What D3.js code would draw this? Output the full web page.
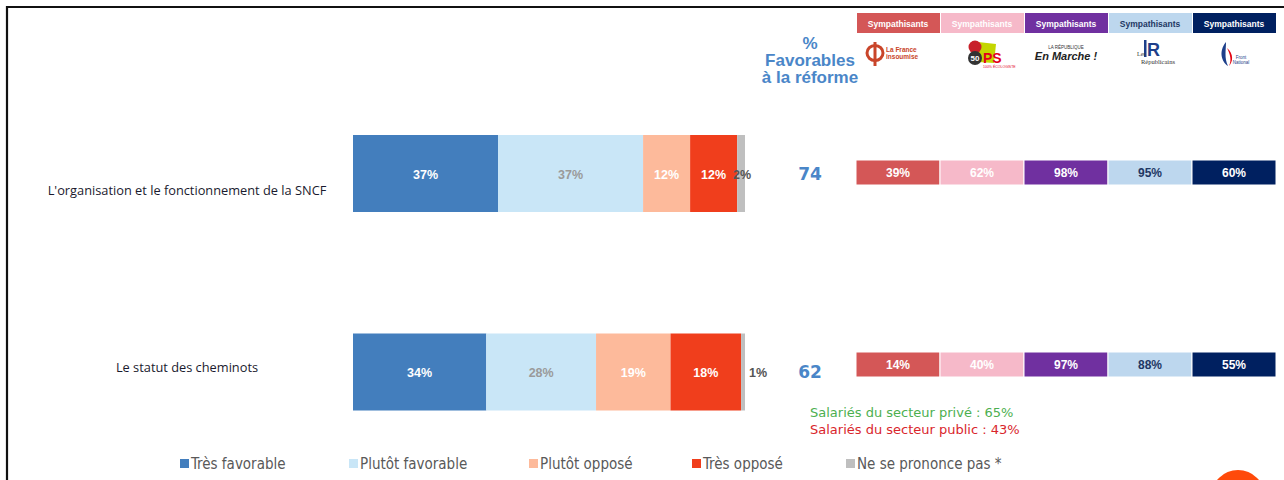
<!DOCTYPE html>
<html>
<head>
<meta charset="utf-8">
<script src="https://cdn.jsdelivr.net/npm/d3@7/dist/d3.min.js"></script>
<style>
html,body{margin:0;padding:0;background:#fff;}
svg{display:block;}
</style>
</head>
<body>
<svg id="chart" width="1284" height="480"></svg>
<script>
// ---- data ----
const categories = ["L'organisation et le fonctionnement de la SNCF", "Le statut des cheminots"];
const seriesNames = ["Très favorable", "Plutôt favorable", "Plutôt opposé", "Très opposé", "Ne se prononce pas *"];
const tresFavorable = [37, 34];
const plutotFavorable = [37, 28];
const plutotOppose = [12, 19];
const tresOppose = [12, 18];
const nePrononcePas = [2, 1];
const favorables = [74, 62];
const parties = ["La France insoumise", "PS", "En Marche !", "Les Républicains", "Front National"];
const lfi = [39, 14];
const ps = [62, 40];
const lrem = [98, 97];
const lr = [95, 88];
const fn = [60, 55];
const salaries = ["Salariés du secteur privé : 65%", "Salariés du secteur public : 43%"];

const seriesColors = ["#437ebd", "#c9e6f7", "#fdba9b", "#f03e1c", "#bfbfbf"];
const seriesText = ["#ffffff", "#9a9a9a", "#ffffff", "#ffffff", "#555555"];
const partyColors = ["#d45757", "#f6b9c9", "#7030a0", "#bdd7ee", "#002060"];
const partyText = ["#ffffff", "#ffffff", "#ffffff", "#1f3864", "#ffffff"];

const svg = d3.select("#chart");
const W = 1284, H = 480;

// frame
svg.append("path").attr("d", `M7,${H} V7 H${W}`).attr("fill", "none").attr("stroke", "#111").attr("stroke-width", 2.2);

// scales
const x = d3.scaleLinear().domain([0, 100]).range([353, 745]);
const y = d3.scalePoint().domain(categories).range([173.5, 372]);
const barH = 77;

const seriesVals = [tresFavorable, plutotFavorable, plutotOppose, tresOppose, nePrononcePas];
const rows = categories.map((c, i) => {
  const o = { cat: c };
  seriesNames.forEach((s, j) => o[s] = seriesVals[j][i]);
  return o;
});
const stack = d3.stack().keys(seriesNames)(rows);

const font = "'Liberation Sans', Arial, sans-serif";

stack.forEach((layer, j) => {
  const g = svg.append("g");
  g.selectAll("rect").data(layer).join("rect")
    .attr("x", d => x(d[0]))
    .attr("y", d => y(d.data.cat) - barH / 2)
    .attr("width", d => x(d[1]) - x(d[0]))
    .attr("height", barH)
    .attr("fill", seriesColors[j]);
  g.selectAll("text").data(layer).join("text")
    .attr("x", d => {
      const v = d[1] - d[0];
      if (j === 4) return v >= 2 ? x(d[1]) - 3 : x(d[1]) + 13;
      return (x(d[0]) + x(d[1])) / 2;
    })
    .attr("y", d => y(d.data.cat) + 5)
    .attr("text-anchor", "middle")
    .attr("font-family", font)
    .attr("font-weight", "bold")
    .attr("font-size", 12.5)
    .attr("fill", seriesText[j])
    .text(d => (d[1] - d[0]) + "%");
});

// category labels
svg.selectAll("text.cat").data(categories).join("text")
  .attr("class", "cat")
  .attr("x", 187)
  .attr("y", (d, i) => y(d) + (i === 0 ? 21 : 0))
  .attr("text-anchor", "middle")
  .attr("font-family", "'Open Sans', 'Noto Sans', sans-serif")
  .attr("font-size", 12.8)
  .attr("fill", "#1a1a2e")
  .text(d => d);

// % favorables header
const hdr = svg.append("text").attr("text-anchor", "middle")
  .attr("font-family", "'Liberation Sans', Verdana, sans-serif").attr("font-weight", "bold")
  .attr("font-size", 17).attr("fill", "#4a86c8");
["%", "Favorables", "à la réforme"].forEach((t, i) => {
  hdr.append("tspan").attr("x", 810).attr("y", 48.5 + i * 17.3).text(t);
});

// favorable totals
svg.selectAll("text.fav").data(favorables).join("text")
  .attr("class", "fav")
  .attr("x", 810)
  .attr("y", (d, i) => y(categories[i]) + 6)
  .attr("text-anchor", "middle")
  .attr("font-family", "'DejaVu Sans', Verdana, sans-serif")
  .attr("font-weight", "bold")
  .attr("font-size", 17)
  .attr("fill", "#4a86c8")
  .text(d => d);

// party bars
const px = d3.scaleBand().domain(parties).range([856, 1276]);
const py = d3.scalePoint().domain(categories).range([172.5, 364.5]);
const partyVals = [lfi, ps, lrem, lr, fn];
const partyH = 25;

categories.forEach((c, i) => {
  const g = svg.append("g");
  g.selectAll("rect").data(parties).join("rect")
    .attr("x", d => px(d))
    .attr("y", py(c) - partyH / 2)
    .attr("width", px.bandwidth())
    .attr("height", partyH)
    .attr("fill", (d, k) => partyColors[k])
    .attr("stroke", "#fff").attr("stroke-width", 1);
  g.selectAll("text").data(parties).join("text")
    .attr("x", d => px(d) + px.bandwidth() / 2)
    .attr("y", py(c) + 4.5)
    .attr("text-anchor", "middle")
    .attr("font-family", font)
    .attr("font-weight", "bold")
    .attr("font-size", 12)
    .attr("fill", (d, k) => partyText[k])
    .text((d, k) => partyVals[k][i] + "%");
});

// Sympathisants header boxes
const hg = svg.append("g");
hg.selectAll("rect").data(parties).join("rect")
  .attr("x", d => px(d) + 1)
  .attr("y", 13)
  .attr("width", px.bandwidth() - 1)
  .attr("height", 20)
  .attr("fill", (d, k) => partyColors[k]);
hg.selectAll("text").data(parties).join("text")
  .attr("x", d => px(d) + px.bandwidth() / 2)
  .attr("y", 26.5)
  .attr("text-anchor", "middle")
  .attr("font-family", font)
  .attr("font-weight", "bold")
  .attr("font-size", 8.5)
  .attr("fill", (d, k) => partyText[k])
  .text("Sympathisants");

// logos (approximations)
const lg = svg.append("g");
// LFI
{
  const cx = px(parties[0]) + 19;
  lg.append("ellipse").attr("cx", cx).attr("cy", 53).attr("rx", 8).attr("ry", 7.5).attr("fill", "none").attr("stroke", "#c9452a").attr("stroke-width", 3);
  lg.append("line").attr("x1", cx).attr("x2", cx).attr("y1", 42).attr("y2", 66).attr("stroke", "#c9452a").attr("stroke-width", 3);
  lg.append("text").attr("x", cx + 11).attr("y", 52).attr("font-family", font).attr("font-weight", "bold").attr("font-size", 6.5).attr("fill", "#c9452a").text("La France");
  lg.append("text").attr("x", cx + 11).attr("y", 58.5).attr("font-family", font).attr("font-weight", "bold").attr("font-size", 6.5).attr("fill", "#c9452a").text("insoumise");
}
// PS
{
  const cx = px(parties[1]) + px.bandwidth() / 2;
  lg.append("path").attr("d", `M${cx - 4},42 L${cx + 14},44 L${cx + 12},63 L${cx - 4},62 Z`).attr("fill", "#c4d600");
  lg.append("circle").attr("cx", cx - 7).attr("cy", 47).attr("r", 6.5).attr("fill", "#c8202a");
  lg.append("circle").attr("cx", cx - 7).attr("cy", 58).attr("r", 7).attr("fill", "#333");
  lg.append("text").attr("x", cx - 7).attr("y", 61).attr("text-anchor", "middle").attr("font-family", font).attr("font-weight", "bold").attr("font-size", 8).attr("fill", "#fff").text("50");
  lg.append("text").attr("x", cx + 1).attr("y", 63).attr("font-family", font).attr("font-weight", "bold").attr("font-size", 14).attr("fill", "#e3001b").text("PS");
  lg.append("text").attr("x", cx + 1).attr("y", 68).attr("font-family", font).attr("font-size", 3.5).attr("fill", "#e3001b").text("100% ÉCOLOGISTE");
}
// En Marche
{
  const cx = px(parties[2]) + px.bandwidth() / 2;
  lg.append("text").attr("x", cx).attr("y", 49).attr("text-anchor", "middle").attr("font-family", font).attr("font-size", 4.5).attr("fill", "#333").text("LA RÉPUBLIQUE");
  lg.append("text").attr("x", cx).attr("y", 60).attr("text-anchor", "middle").attr("font-family", font).attr("font-weight", "bold").attr("font-style", "italic").attr("font-size", 11).attr("fill", "#222").text("En Marche !");
}
// LR
{
  const cx = px(parties[3]) + px.bandwidth() / 2;
  lg.append("rect").attr("x", cx - 6).attr("y", 40).attr("width", 2.5).attr("height", 17).attr("fill", "#1d3f8a");
  lg.append("text").attr("x", cx - 3).attr("y", 56).attr("font-family", font).attr("font-weight", "bold").attr("font-size", 18).attr("fill", "#1d3f8a").text("R");
  lg.append("text").attr("x", cx - 13).attr("y", 56).attr("font-family", "'Liberation Serif', serif").attr("font-size", 6).attr("fill", "#333").text("Les");
  lg.append("text").attr("x", cx - 9).attr("y", 64).attr("font-family", "'Liberation Serif', serif").attr("font-size", 6.5).attr("fill", "#333").text("Républicains");
}
// FN
{
  const cx = px(parties[4]) + px.bandwidth() / 2;
  lg.append("path").attr("d", `M${cx - 8},42 C${cx - 16},52 ${cx - 12},62 ${cx - 6},66 C${cx - 10},58 ${cx - 8},50 ${cx - 8},42 Z`).attr("fill", "#1d3f8a");
  lg.append("path").attr("d", `M${cx - 7},48 C${cx - 4},54 ${cx - 2},60 ${cx - 5},66 C${cx - 1},62 ${cx},54 ${cx - 7},48 Z`).attr("fill", "#e30613");
  lg.append("text").attr("x", cx + 7).attr("y", 59).attr("text-anchor", "middle").attr("font-family", font).attr("font-size", 4.5).attr("fill", "#1d3f8a").text("Front");
  lg.append("text").attr("x", cx + 7).attr("y", 64).attr("text-anchor", "middle").attr("font-family", font).attr("font-size", 4.5).attr("fill", "#1d3f8a").text("National");
}

// salariés
svg.selectAll("text.sal").data(salaries).join("text")
  .attr("class", "sal")
  .attr("x", 810)
  .attr("y", (d, i) => 417 + i * 16.5)
  .attr("font-family", "'DejaVu Sans', Verdana, sans-serif")
  .attr("font-size", 13)
  .attr("fill", (d, i) => i === 0 ? "#4caf50" : "#d9262c")
  .text(d => d);

// legend
const legX = [180, 349, 529, 692, 846];
const leg = svg.append("g");
seriesNames.forEach((s, j) => {
  leg.append("rect").attr("x", legX[j]).attr("y", 459).attr("width", 9).attr("height", 9).attr("fill", seriesColors[j]);
  leg.append("text").attr("x", legX[j] + 11).attr("y", 468.5)
    .attr("font-family", "'Liberation Sans Narrow', 'DejaVu Sans Condensed', 'Liberation Sans', sans-serif")
    .attr("font-stretch", "condensed")
    .attr("font-size", 15).attr("fill", "#595959").text(s);
});

// orange badge bottom right
svg.append("circle").attr("cx", 1238).attr("cy", 497).attr("r", 27).attr("fill", "#ff4a0a");
</script>
</body>
</html>
